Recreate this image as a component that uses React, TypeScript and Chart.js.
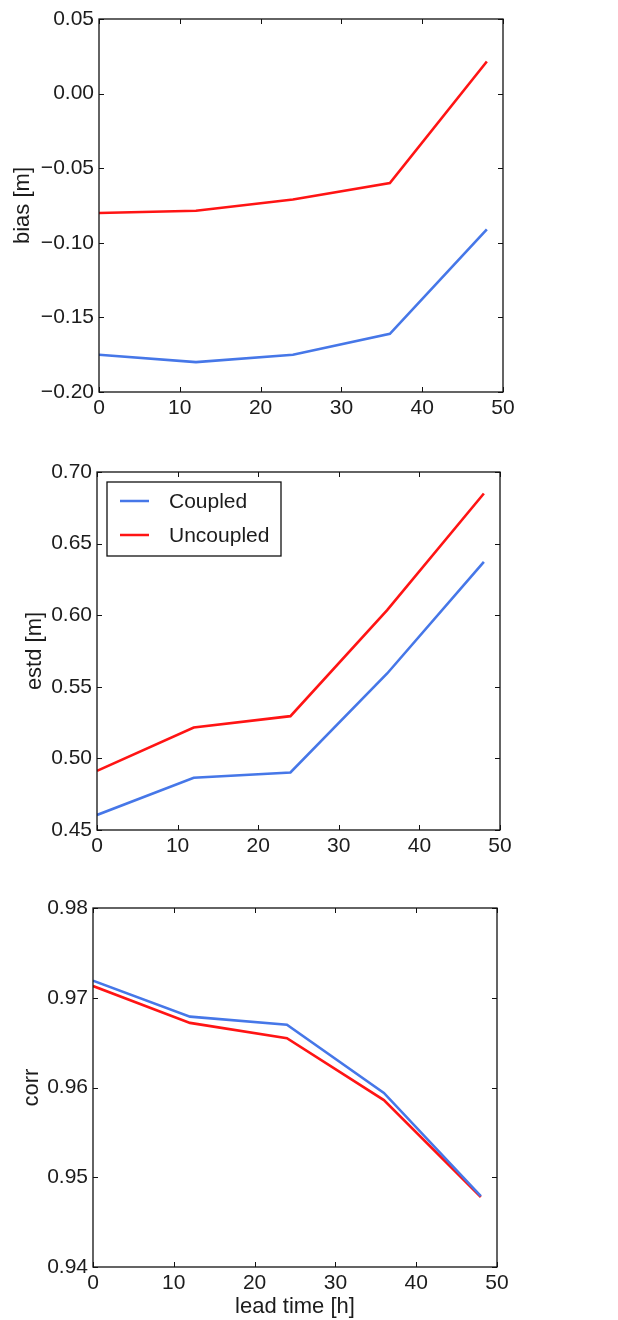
import React, { useEffect, useRef } from "react";
import { Chart, registerables } from "chart.js";
Chart.register(...registerables);

// ---------- data ----------
const leadTimes = [0, 12, 24, 36, 48];
const seriesLabels = ["Coupled", "Uncoupled"];
const seriesColors = ["#4677e8", "#ff1414"];

const biasCoupled = [-0.175, -0.18, -0.175, -0.161, -0.091];
const biasUncoupled = [-0.08, -0.0785, -0.071, -0.06, 0.0215];

const estdCoupled = [0.4605, 0.4865, 0.4902, 0.5593, 0.6372];
const estdUncoupled = [0.4913, 0.5216, 0.5295, 0.6035, 0.685];

const corrCoupled = [0.9719, 0.9679, 0.967, 0.9594, 0.9479];
const corrUncoupled = [0.9713, 0.9672, 0.9655, 0.9586, 0.9478];

const xTicks = [0, 10, 20, 30, 40, 50];
const biasTicks = [-0.2, -0.15, -0.1, -0.05, 0.0, 0.05];
const estdTicks = [0.45, 0.5, 0.55, 0.6, 0.65, 0.7];
const corrTicks = [0.94, 0.95, 0.96, 0.97, 0.98];

const FONT = "'Liberation Sans', Arial, sans-serif";
const TEXT = "#1c1c1c";

const fmt = (v: number) => {
  const s = Math.abs(v) < 1e-9 ? "0.00" : v.toFixed(2);
  return s.replace("-", "\u2212");
};

const framePlugin = {
  id: "mplFrame",
  afterDatasetsDraw(chart: any) {
    const { ctx, chartArea: a, scales } = chart;
    ctx.save();
    ctx.strokeStyle = "#111";
    ctx.lineWidth = 1.3;
    ctx.strokeRect(a.left, a.top, a.right - a.left, a.bottom - a.top);
    const L = 5;
    ctx.beginPath();
    scales.x.ticks.forEach((t: any) => {
      const px = Math.round(scales.x.getPixelForValue(t.value)) + 0.5;
      ctx.moveTo(px, a.bottom);
      ctx.lineTo(px, a.bottom - L);
      ctx.moveTo(px, a.top);
      ctx.lineTo(px, a.top + L);
    });
    scales.y.ticks.forEach((t: any) => {
      const py = Math.round(scales.y.getPixelForValue(t.value)) + 0.5;
      ctx.moveTo(a.left, py);
      ctx.lineTo(a.left + L, py);
      ctx.moveTo(a.right, py);
      ctx.lineTo(a.right - L, py);
    });
    ctx.lineWidth = 1;
    ctx.stroke();
    ctx.restore();
  },
};

const boxLegendPlugin = {
  id: "boxLegend",
  afterDraw(chart: any, _args: any, opts: any) {
    if (!opts || !opts.show) return;
    const { ctx, chartArea: a } = chart;
    const x = a.left + 10;
    const y = a.top + 10;
    const w = 174;
    const h = 74;
    ctx.save();
    ctx.fillStyle = "#fff";
    ctx.fillRect(x, y, w, h);
    ctx.strokeStyle = "#111";
    ctx.lineWidth = 1.3;
    ctx.strokeRect(x, y, w, h);
    ctx.font = `21px ${FONT}`;
    ctx.textBaseline = "middle";
    ctx.fillStyle = TEXT;
    chart.data.datasets.forEach((ds: any, i: number) => {
      const ly = y + 19 + i * 34;
      ctx.strokeStyle = ds.borderColor;
      ctx.lineWidth = 2.5;
      ctx.beginPath();
      ctx.moveTo(x + 13, ly);
      ctx.lineTo(x + 42, ly);
      ctx.stroke();
      ctx.fillStyle = TEXT;
      ctx.fillText(ds.label, x + 62, ly + 1);
    });
    ctx.restore();
  },
};

type Panel = {
  coupled: number[];
  uncoupled: number[];
  yTicks: number[];
  yTitle: string;
  xTitle?: string;
  legend?: boolean;
  height: number;
  padTop: number;
  padRight: number;
  yAxisW: number;
  xAxisH: number;
  yTitlePad: number;
};

const panels: Panel[] = [
  {
    coupled: biasCoupled,
    uncoupled: biasUncoupled,
    yTicks: biasTicks,
    yTitle: "bias [m]",
    height: 440,
    padTop: 19,
    padRight: 115,
    yAxisW: 99,
    xAxisH: 48,
    yTitlePad: 10,
  },
  {
    coupled: estdCoupled,
    uncoupled: estdUncoupled,
    yTicks: estdTicks,
    yTitle: "estd [m]",
    legend: true,
    height: 440,
    padTop: 32,
    padRight: 118,
    yAxisW: 97,
    xAxisH: 50,
    yTitlePad: 22,
  },
  {
    coupled: corrCoupled,
    uncoupled: corrUncoupled,
    yTicks: corrTicks,
    yTitle: "corr",
    xTitle: "lead time [h]",
    height: 440,
    padTop: 28,
    padRight: 121,
    yAxisW: 93,
    xAxisH: 53,
    yTitlePad: 19,
  },
];

function PanelChart({ p }: { p: Panel }) {
  const ref = useRef<HTMLCanvasElement | null>(null);
  useEffect(() => {
    if (!ref.current) return;
    const series = [p.coupled, p.uncoupled];
    const chart = new Chart(ref.current, {
      type: "line",
      data: {
        datasets: series.map((vals, i) => ({
          label: seriesLabels[i],
          data: leadTimes.map((t, j) => ({ x: t, y: vals[j] })),
          borderColor: seriesColors[i],
          backgroundColor: seriesColors[i],
          borderWidth: 2.6,
          pointRadius: 0,
          tension: 0,
          fill: false,
        })),
      },
      options: {
        responsive: false,
        animation: false,
        events: [],
        layout: { padding: { top: p.padTop, right: p.padRight, left: 0, bottom: 0 } },
        plugins: {
          legend: { display: false },
          tooltip: { enabled: false },
          boxLegend: { show: !!p.legend },
        } as any,
        scales: {
          x: {
            type: "linear",
            min: 0,
            max: 50,
            grid: { display: false, drawTicks: false },
            border: { display: false },
            ticks: {
              autoSkip: false,
              maxRotation: 0,
              padding: 4,
              color: TEXT,
              font: { family: FONT, size: 21 },
              callback: (v: any) => String(v),
            },
            afterBuildTicks: (s: any) => {
              s.ticks = xTicks.map((v) => ({ value: v }));
            },
            afterFit: (s: any) => {
              s.height = p.xAxisH;
            },
            title: {
              display: !!p.xTitle,
              text: p.xTitle || "",
              color: TEXT,
              font: { family: FONT, size: 22 },
              padding: { top: 0, bottom: 0 },
            },
          },
          y: {
            type: "linear",
            min: p.yTicks[0],
            max: p.yTicks[p.yTicks.length - 1],
            grid: { display: false, drawTicks: false },
            border: { display: false },
            ticks: {
              autoSkip: false,
              padding: 5,
              color: TEXT,
              font: { family: FONT, size: 21 },
              callback: (v: any) => fmt(Number(v)),
            },
            afterBuildTicks: (s: any) => {
              s.ticks = p.yTicks.map((v) => ({ value: v }));
            },
            afterFit: (s: any) => {
              s.width = p.yAxisW;
            },
            title: {
              display: true,
              text: p.yTitle,
              color: TEXT,
              font: { family: FONT, size: 22 },
              padding: { top: p.yTitlePad, bottom: 0 },
            },
          },
        },
      },
      plugins: [framePlugin, boxLegendPlugin],
    } as any);
    return () => chart.destroy();
  }, [p]);
  return (
    <canvas
      ref={ref}
      width={618}
      height={p.height}
      style={{ display: "block", width: 618, height: p.height }}
    />
  );
}

export default function App() {
  return (
    <div
      style={{
        position: "absolute",
        top: 0,
        left: 0,
        width: 618,
        height: 1320,
        background: "#fff",
      }}
    >
      {panels.map((p, i) => (
        <PanelChart key={i} p={p} />
      ))}
    </div>
  );
}
